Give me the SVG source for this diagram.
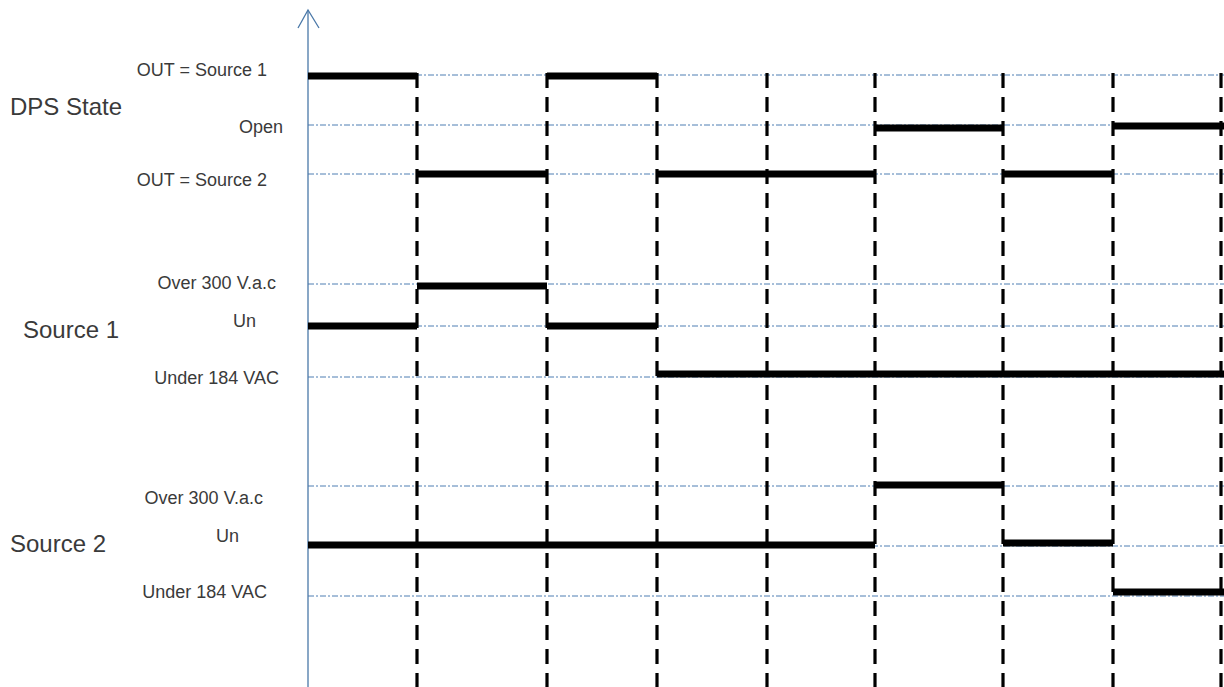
<svg xmlns="http://www.w3.org/2000/svg" width="1224" height="687" viewBox="0 0 1224 687">
<style>
.lbl{font-family:"Liberation Sans",Arial,sans-serif;font-size:18px;fill:#3a3a3a}
.big{font-family:"Liberation Sans",Arial,sans-serif;font-size:24px;fill:#3a3a3a}
.end{text-anchor:end}
.grid{stroke:#4f7fb3;stroke-width:1;stroke-dasharray:6 2 2 2;fill:none}
.sig{stroke:#000;stroke-width:7;fill:none}
.edge{stroke:#000;stroke-width:3.2;stroke-dasharray:15 9;fill:none}
.axis{stroke:#4a78a8;stroke-width:1.3;fill:none}
</style>
<rect width="1224" height="687" fill="#fff"/>
<g id="grid">
<line class="grid" x1="308" y1="75" x2="1224" y2="75"/>
<line class="grid" x1="308" y1="125" x2="1224" y2="125"/>
<line class="grid" x1="308" y1="174" x2="1224" y2="174"/>
<line class="grid" x1="308" y1="284" x2="1224" y2="284"/>
<line class="grid" x1="308" y1="326" x2="1224" y2="326"/>
<line class="grid" x1="308" y1="377" x2="1224" y2="377"/>
<line class="grid" x1="308" y1="486" x2="1224" y2="486"/>
<line class="grid" x1="308" y1="546" x2="1224" y2="546"/>
<line class="grid" x1="308" y1="596" x2="1224" y2="596"/>
</g>
<g id="axis">
<line class="axis" x1="308" y1="10" x2="308" y2="687"/>
<polyline class="axis" points="298,28 308,10 319,28"/>
</g>
<g id="connectors">
<line class="edge" x1="417" y1="73" x2="417" y2="687"/>
<line class="edge" x1="547" y1="73" x2="547" y2="687"/>
<line class="edge" x1="657" y1="73" x2="657" y2="687"/>
<line class="edge" x1="767" y1="73" x2="767" y2="687"/>
<line class="edge" x1="875" y1="73" x2="875" y2="687"/>
<line class="edge" x1="1003" y1="73" x2="1003" y2="687"/>
<line class="edge" x1="1113" y1="73" x2="1113" y2="687"/>
<line class="edge" x1="1221" y1="73" x2="1221" y2="687"/>
</g>
<g id="dps-signal">
<line class="sig" x1="308" y1="76" x2="417" y2="76"/>
<line class="sig" x1="547" y1="76" x2="657" y2="76"/>
<line class="sig" x1="875" y1="128" x2="1003" y2="128"/>
<line class="sig" x1="1113" y1="126" x2="1224" y2="126"/>
<line class="sig" x1="417" y1="174" x2="547" y2="174"/>
<line class="sig" x1="657" y1="174" x2="875" y2="174"/>
<line class="sig" x1="1003" y1="174" x2="1113" y2="174"/>
</g>
<g id="source1-signal">
<line class="sig" x1="417" y1="286" x2="547" y2="286"/>
<line class="sig" x1="308" y1="326" x2="417" y2="326"/>
<line class="sig" x1="547" y1="326" x2="657" y2="326"/>
<line class="sig" x1="657" y1="374" x2="1224" y2="374"/>
</g>
<g id="source2-signal">
<line class="sig" x1="875" y1="485" x2="1003" y2="485"/>
<line class="sig" x1="308" y1="545" x2="875" y2="545"/>
<line class="sig" x1="1003" y1="543" x2="1113" y2="543"/>
<line class="sig" x1="1113" y1="592" x2="1224" y2="592"/>
</g>
<g id="dps-labels">
<text class="big" x="10" y="115">DPS State</text>
<text class="lbl end" x="267" y="76">OUT = Source 1</text>
<text class="lbl end" x="283" y="133">Open</text>
<text class="lbl end" x="267" y="186">OUT = Source 2</text>
</g>
<g id="source1-labels">
<text class="big" x="23" y="338">Source 1</text>
<text class="lbl end" x="276" y="289">Over 300 V.a.c</text>
<text class="lbl" x="233" y="327">Un</text>
<text class="lbl end" x="279" y="384">Under 184 VAC</text>
</g>
<g id="source2-labels">
<text class="big" x="10" y="552">Source 2</text>
<text class="lbl end" x="263" y="504">Over 300 V.a.c</text>
<text class="lbl" x="216" y="542">Un</text>
<text class="lbl end" x="267" y="598">Under 184 VAC</text>
</g>
</svg>
